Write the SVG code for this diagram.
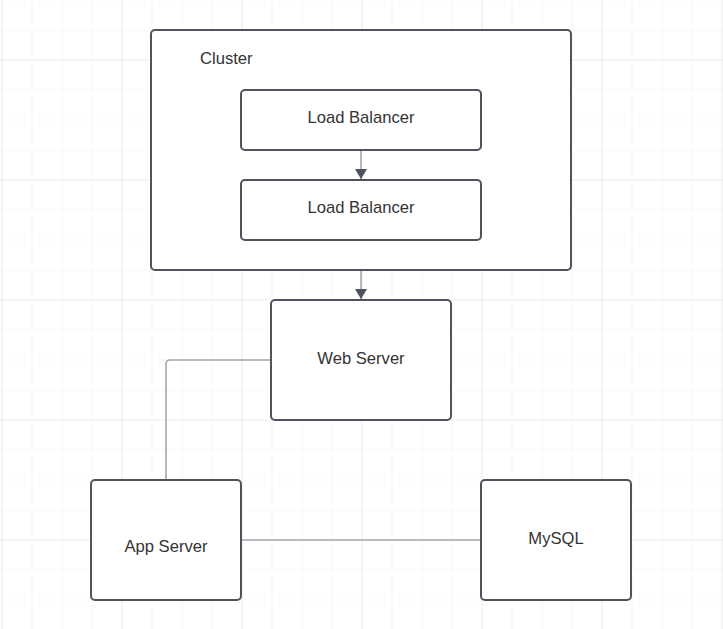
<svg xmlns="http://www.w3.org/2000/svg" width="723" height="629" viewBox="0 0 723 629">
<defs>
<pattern id="minor" x="1.5" y="-0.5" width="30" height="30" patternUnits="userSpaceOnUse">
<path d="M0 0V30M0 0H30" fill="none" stroke="#efefef" stroke-width="1"/>
</pattern>
<pattern id="major" x="1.5" y="59.5" width="120" height="120" patternUnits="userSpaceOnUse">
<path d="M0 0V120M0 0H120" fill="none" stroke="#e2e2e2" stroke-width="1"/>
</pattern>
<marker id="arrow" viewBox="0 0 10 12" refX="10" refY="6" markerWidth="10" markerHeight="12" markerUnits="userSpaceOnUse" orient="auto">
<path d="M0 0L10 6L0 12Z" fill="#4f535b"/>
</marker>
<style>
.node{fill:#ffffff;stroke:#4f535b;stroke-width:2}
.lbl{font-family:"Liberation Sans",Arial,sans-serif;font-size:16.6px;fill:#333333}
.c{text-anchor:middle}
.conn{fill:none;stroke:#a4a7ab;stroke-width:1.6}
</style>
</defs>
<rect width="723" height="629" fill="#ffffff"/>
<rect width="723" height="629" fill="url(#minor)"/>
<rect width="723" height="629" fill="url(#major)"/>
<g id="cluster">
<rect class="node" x="151" y="30" width="420" height="240" rx="4"/>
<text class="lbl" x="200" y="63.5">Cluster</text>
</g>
<g id="lb1">
<rect class="node" x="241" y="90" width="240" height="60" rx="4"/>
<text class="lbl c" x="361" y="122.5">Load Balancer</text>
</g>
<g id="lb2">
<rect class="node" x="241" y="180" width="240" height="60" rx="4"/>
<text class="lbl c" x="361" y="212.5">Load Balancer</text>
</g>
<g id="webserver">
<rect class="node" x="271" y="300" width="180" height="120" rx="4"/>
<text class="lbl c" x="361" y="363.5">Web Server</text>
</g>
<g id="appserver">
<rect class="node" x="91" y="480" width="150" height="120" rx="4"/>
<text class="lbl c" x="166" y="551.5">App Server</text>
</g>
<g id="mysql">
<rect class="node" x="481" y="480" width="150" height="120" rx="4"/>
<text class="lbl c" x="556" y="543.5">MySQL</text>
</g>
<g id="connectors">
<path class="conn" d="M361 151V179" marker-end="url(#arrow)"/>
<path class="conn" d="M361 271V299" marker-end="url(#arrow)"/>
<path class="conn" d="M270 360H170Q166 360 166 364V479"/>
<path class="conn" d="M242 540H480"/>
</g>
</svg>
